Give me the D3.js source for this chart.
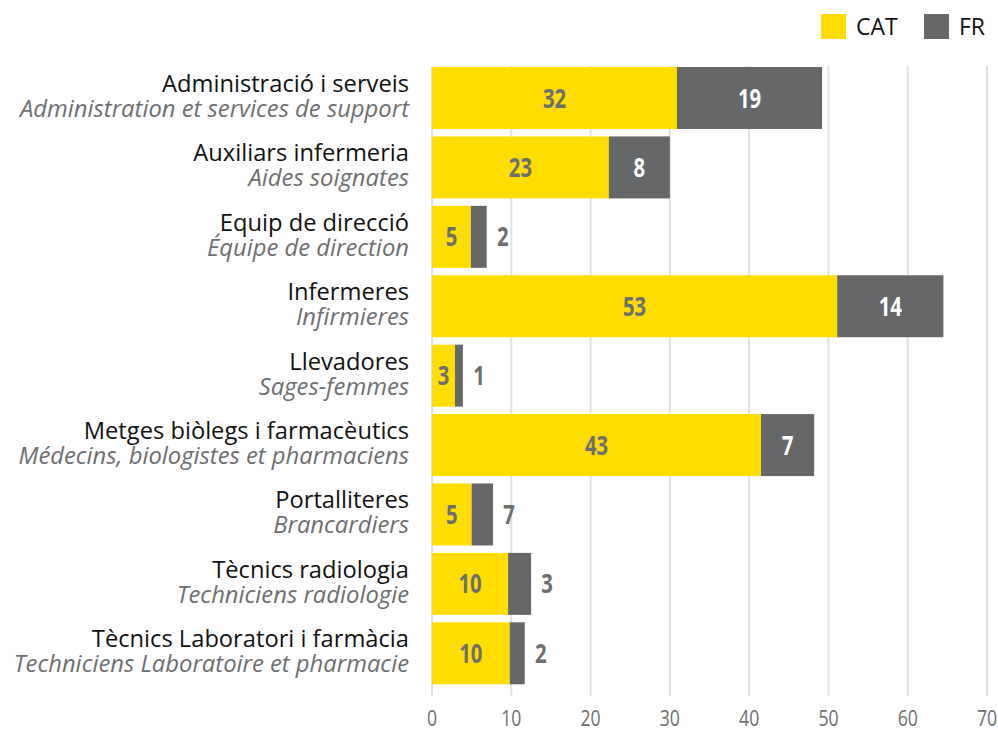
<!DOCTYPE html>
<html>
<head>
<meta charset="utf-8">
<script src="https://cdn.jsdelivr.net/npm/d3@7"></script>
<style>
  body { margin: 0; background: #fff; }
  svg { display: block; }
</style>
</head>
<body>
<svg id="chart" width="998" height="729"></svg>
<script>
// categories (Catalan / French)
var catNames = ["Administració i serveis", "Auxiliars infermeria", "Equip de direcció", "Infermeres",
  "Llevadores", "Metges biòlegs i farmacèutics", "Portalliteres", "Tècnics radiologia",
  "Tècnics Laboratori i farmàcia"];
var frNames = ["Administration et services de support", "Aides soignates", "Équipe de direction",
  "Infirmieres", "Sages-femmes", "Médecins, biologistes et pharmaciens", "Brancardiers",
  "Techniciens radiologie", "Techniciens Laboratoire et pharmacie"];

// bar lengths as drawn
var catValues = [30.9, 22.3, 4.9, 51.1, 2.9, 41.5, 5.0, 9.6, 9.8];
var frValues = [18.3, 7.7, 2.0, 13.4, 1.0, 6.7, 2.7, 2.9, 1.9];

// printed labels
var catLabels = [32, 23, 5, 53, 3, 43, 5, 10, 10];
var frLabels = [19, 8, 2, 14, 1, 7, 7, 3, 2];

var xTicks = [0, 10, 20, 30, 40, 50, 60, 70];

var YELLOW = "#ffdd00", GREY = "#656769", TXT = "#6d6e70";
var sans = "'Open Sans', 'Noto Sans', sans-serif";

var svg = d3.select("#chart");

var x = d3.scaleLinear()
    .domain([0, 70])
    .range([432, 987]);

var y = d3.scaleBand()
    .domain(d3.range(catNames.length))
    .range([63.3, 688])
    .paddingInner(0.107)
    .paddingOuter(0.0535);

// grid lines
svg.append("g")
  .selectAll("line")
  .data(xTicks)
  .enter()
  .append("line")
    .attr("x1", function(d) { return x(d); })
    .attr("x2", function(d) { return x(d); })
    .attr("y1", 66)
    .attr("y2", 696)
    .attr("stroke", "#e1e1e1")
    .attr("stroke-width", 2);

// tick labels (narrowed to mimic a condensed face)
svg.append("g")
  .selectAll("text")
  .data(xTicks)
  .enter()
  .append("text")
    .attr("transform", function(d) { return "translate(" + x(d) + ",726) scale(0.8,1)"; })
    .attr("text-anchor", "middle")
    .attr("font-family", sans)
    .attr("font-size", 22)
    .attr("fill", TXT)
    .text(function(d) { return d; });

var rows = svg.append("g")
  .selectAll("g")
  .data(d3.range(catNames.length))
  .enter()
  .append("g");

rows.append("rect")
    .attr("x", x(0))
    .attr("y", function(i) { return y(i); })
    .attr("width", function(i) { return x(catValues[i]) - x(0); })
    .attr("height", y.bandwidth())
    .attr("fill", YELLOW);

rows.append("rect")
    .attr("x", function(i) { return x(catValues[i]); })
    .attr("y", function(i) { return y(i); })
    .attr("width", function(i) { return x(catValues[i] + frValues[i]) - x(catValues[i]); })
    .attr("height", y.bandwidth())
    .attr("fill", GREY);

function frInside(i) {
  return x(catValues[i] + frValues[i]) - x(catValues[i]) > 30;
}

// value labels
rows.append("text")
    .attr("transform", function(i) {
      var cx = (x(0) + x(catValues[i])) / 2,
          cy = y(i) + y.bandwidth() / 2 + 9.5;
      return "translate(" + cx + "," + cy + ") scale(0.78,1)";
    })
    .attr("text-anchor", "middle")
    .attr("font-family", sans)
    .attr("font-weight", "bold")
    .attr("font-size", 26)
    .attr("fill", TXT)
    .text(function(i) { return catLabels[i]; });

rows.append("text")
    .attr("transform", function(i) {
      var cx = frInside(i)
            ? (x(catValues[i]) + x(catValues[i] + frValues[i])) / 2
            : x(catValues[i] + frValues[i]) + 16,
          cy = y(i) + y.bandwidth() / 2 + 9.5;
      return "translate(" + cx + "," + cy + ") scale(0.78,1)";
    })
    .attr("text-anchor", "middle")
    .attr("font-family", sans)
    .attr("font-weight", "bold")
    .attr("font-size", 26)
    .attr("fill", function(i) { return frInside(i) ? "#fff" : TXT; })
    .text(function(i) { return frLabels[i]; });

// category labels
rows.append("text")
    .attr("x", 409)
    .attr("y", function(i) { return y(i) + y.bandwidth() / 2 - 6; })
    .attr("text-anchor", "end")
    .attr("font-family", sans)
    .attr("font-size", 23.7)
    .attr("fill", "#111")
    .text(function(i) { return catNames[i]; });

rows.append("text")
    .attr("x", 409)
    .attr("y", function(i) { return y(i) + y.bandwidth() / 2 + 19; })
    .attr("text-anchor", "end")
    .attr("font-family", sans)
    .attr("font-style", "italic")
    .attr("font-size", 23.8)
    .attr("fill", TXT)
    .text(function(i) { return frNames[i]; });

// legend
var legend = svg.append("g");
var legendItems = [{ name: "CAT", color: YELLOW, x: 821 }, { name: "FR", color: GREY, x: 924 }];
legend.selectAll("rect")
  .data(legendItems)
  .enter()
  .append("rect")
    .attr("x", function(d) { return d.x; })
    .attr("y", 14)
    .attr("width", 25)
    .attr("height", 25)
    .attr("fill", function(d) { return d.color; });
legend.selectAll("text")
  .data(legendItems)
  .enter()
  .append("text")
    .attr("x", function(d) { return d.x + 35; })
    .attr("y", 35)
    .attr("font-family", sans)
    .attr("font-size", 23)
    .attr("fill", "#111")
    .text(function(d) { return d.name; });
</script>
</body>
</html>
